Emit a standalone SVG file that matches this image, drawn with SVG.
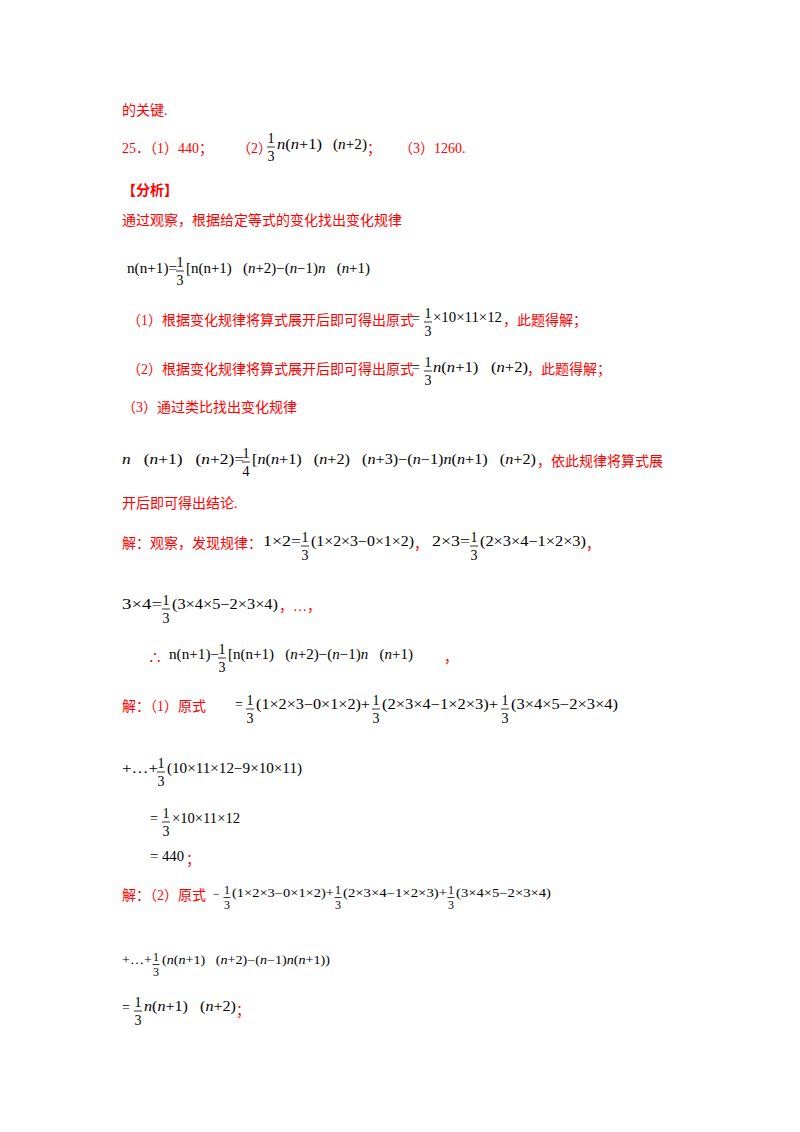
<svg xmlns="http://www.w3.org/2000/svg" width="800" height="1132" viewBox="0 0 800 1132">
<style>
text{white-space:pre}
.r{fill:#ff0000;font-family:"Liberation Serif","Noto Sans CJK SC",serif;font-size:14px}
.m{fill:#000;font-family:"Liberation Serif",serif;font-size:14px}
.s{fill:#000;font-family:"Liberation Serif",serif;font-size:12px}
.f{fill:#000;font-family:"Liberation Serif",serif;font-size:14px;text-anchor:middle}
.fs{fill:#000;font-family:"Liberation Serif",serif;font-size:12px;text-anchor:middle}
.i{font-style:italic}
line{stroke:#000;stroke-width:0.8}
</style>
<defs>
<g id="t"><text class="f" x="0" y="-8">1</text><line x1="-4" y1="-4" x2="4" y2="-4"/><text class="f" x="0" y="10">3</text></g>
<g id="ts"><text class="fs" x="0" y="-7">1</text><line x1="-3.5" y1="-3.5" x2="3.5" y2="-3.5"/><text class="fs" x="0" y="8">3</text></g>
</defs>
<rect width="800" height="1132" fill="#fff"/>
<text class="r" x="122" y="115">的关键.</text>
<text class="r" x="122" y="153">25．（1）440；</text>
<text class="r" x="237" y="153">（2）</text>
<use href="#t" x="271" y="151"/>
<text class="m" x="277" y="149" textLength="45" lengthAdjust="spacingAndGlyphs"><tspan class="i">n</tspan>(<tspan class="i">n</tspan>+1)</text>
<text class="m" x="333" y="149" textLength="34" lengthAdjust="spacingAndGlyphs">(<tspan class="i">n</tspan>+2)</text>
<text class="r" x="367" y="153">；</text>
<text class="r" x="399" y="153">（3）1260.</text>
<text class="r" x="122" y="195" font-weight="bold">【分析】</text>
<text class="r" x="122" y="225">通过观察，根据给定等式的变化找出变化规律</text>

<text class="m" x="127" y="273" textLength="50" lengthAdjust="spacingAndGlyphs">n(n+1)=</text>
<use href="#t" x="180" y="275"/>
<text class="m" x="186" y="273" textLength="184" lengthAdjust="spacingAndGlyphs">[n(n+1)   (<tspan class="i">n</tspan>+2)−(<tspan class="i">n</tspan>−1)<tspan class="i">n</tspan>   (<tspan class="i">n</tspan>+1)</text>

<text class="r" x="127" y="325">（1）根据变化规律将算式展开后即可得出原式</text>
<text class="m" x="412" y="323">=</text>
<use href="#t" x="428" y="326"/>
<text class="m" x="433" y="322" textLength="69" lengthAdjust="spacingAndGlyphs">×10×11×12</text>
<text class="r" x="503" y="325">，此题得解；</text>

<text class="r" x="127" y="374">（2）根据变化规律将算式展开后即可得出原式</text>
<text class="m" x="412" y="372">=</text>
<use href="#t" x="428" y="375"/>
<text class="m" x="433" y="372" textLength="95" lengthAdjust="spacingAndGlyphs"><tspan class="i">n</tspan>(<tspan class="i">n</tspan>+1)   (<tspan class="i">n</tspan>+2)</text>
<text class="r" x="527" y="374">，此题得解；</text>

<text class="r" x="122" y="412">（3）通过类比找出变化规律</text>

<text class="m" x="122" y="464" textLength="122" lengthAdjust="spacingAndGlyphs"><tspan class="i">n</tspan>   (<tspan class="i">n</tspan>+1)   (<tspan class="i">n</tspan>+2)=</text>
<g><text class="f" x="246" y="458">1</text><line x1="242" y1="462" x2="250" y2="462"/><text class="f" x="246" y="476">4</text></g>
<text class="m" x="252" y="464" textLength="284" lengthAdjust="spacingAndGlyphs">[<tspan class="i">n</tspan>(<tspan class="i">n</tspan>+1)   (<tspan class="i">n</tspan>+2)   (<tspan class="i">n</tspan>+3)−(<tspan class="i">n</tspan>−1)<tspan class="i">n</tspan>(<tspan class="i">n</tspan>+1)   (<tspan class="i">n</tspan>+2)</text>
<text class="r" x="537" y="466">，依此规律将算式展</text>
<text class="r" x="122" y="508">开后即可得出结论.</text>

<text class="r" x="122" y="548">解：观察，发现规律：</text>
<text class="m" x="263" y="546" textLength="38" lengthAdjust="spacingAndGlyphs">1×2=</text>
<use href="#t" x="305" y="550"/>
<text class="m" x="311" y="546" textLength="103" lengthAdjust="spacingAndGlyphs">(1×2×3−0×1×2)</text>
<text class="r" x="414" y="549">，</text>
<text class="m" x="432" y="546" textLength="38" lengthAdjust="spacingAndGlyphs">2×3=</text>
<use href="#t" x="474" y="550"/>
<text class="m" x="480" y="546" textLength="106" lengthAdjust="spacingAndGlyphs">(2×3×4−1×2×3)</text>
<text class="r" x="586" y="549">，</text>

<text class="m" x="122" y="609" textLength="40" lengthAdjust="spacingAndGlyphs">3×4=</text>
<use href="#t" x="166" y="613"/>
<text class="m" x="172" y="609" textLength="106" lengthAdjust="spacingAndGlyphs">(3×4×5−2×3×4)</text>
<text class="r" x="279" y="611">，…，</text>

<text class="r" x="148" y="662" font-size="16">∴</text>
<text class="m" x="169" y="659" textLength="50" lengthAdjust="spacingAndGlyphs">n(n+1)−</text>
<use href="#t" x="222" y="662"/>
<text class="m" x="228" y="659" textLength="185" lengthAdjust="spacingAndGlyphs">[n(n+1)   (<tspan class="i">n</tspan>+2)−(<tspan class="i">n</tspan>−1)<tspan class="i">n</tspan>   (<tspan class="i">n</tspan>+1)</text>
<text class="r" x="444" y="662">，</text>

<text class="r" x="122" y="711">解：（1）原式</text>
<text class="m" x="235" y="709">=</text>
<use href="#t" x="250" y="713"/>
<text class="m" x="256" y="709" textLength="114" lengthAdjust="spacingAndGlyphs">(1×2×3−0×1×2)+</text>
<use href="#t" x="376" y="713"/>
<text class="m" x="382" y="709" textLength="116" lengthAdjust="spacingAndGlyphs">(2×3×4−1×2×3)+</text>
<use href="#t" x="505" y="713"/>
<text class="m" x="511" y="709" textLength="107" lengthAdjust="spacingAndGlyphs">(3×4×5−2×3×4)</text>

<text class="m" x="122" y="773" textLength="36" lengthAdjust="spacingAndGlyphs">+…+</text>
<use href="#t" x="161" y="776"/>
<text class="m" x="167" y="773" textLength="135" lengthAdjust="spacingAndGlyphs">(10×11×12−9×10×11)</text>

<text class="m" x="150" y="823">=</text>
<use href="#t" x="166" y="826"/>
<text class="m" x="172" y="823" textLength="68" lengthAdjust="spacingAndGlyphs">×10×11×12</text>
<text class="m" x="150" y="861" textLength="34" lengthAdjust="spacingAndGlyphs">= 440</text>
<text class="r" x="186" y="864">；</text>

<text class="r" x="122" y="900">解：（2）原式</text>
<text class="s" x="213" y="898">−</text>
<use href="#ts" x="227" y="901"/>
<text class="s" x="232" y="897" textLength="102" lengthAdjust="spacingAndGlyphs">(1×2×3−0×1×2)+</text>
<use href="#ts" x="338" y="901"/>
<text class="s" x="343" y="897" textLength="104" lengthAdjust="spacingAndGlyphs">(2×3×4−1×2×3)+</text>
<use href="#ts" x="451" y="901"/>
<text class="s" x="456" y="897" textLength="95" lengthAdjust="spacingAndGlyphs">(3×4×5−2×3×4)</text>

<text class="s" x="122" y="964" textLength="30" lengthAdjust="spacingAndGlyphs">+…+</text>
<use href="#ts" x="156" y="968"/>
<text class="s" x="162" y="964" textLength="168" lengthAdjust="spacingAndGlyphs">(<tspan class="i">n</tspan>(<tspan class="i">n</tspan>+1)   (<tspan class="i">n</tspan>+2)−(<tspan class="i">n</tspan>−1)<tspan class="i">n</tspan>(<tspan class="i">n</tspan>+1))</text>

<text class="m" x="122" y="1012">=</text>
<use href="#t" x="138" y="1015"/>
<text class="m" x="144" y="1011" textLength="92" lengthAdjust="spacingAndGlyphs"><tspan class="i">n</tspan>(<tspan class="i">n</tspan>+1)   (<tspan class="i">n</tspan>+2)</text>
<text class="r" x="236" y="1015">；</text>
</svg>
